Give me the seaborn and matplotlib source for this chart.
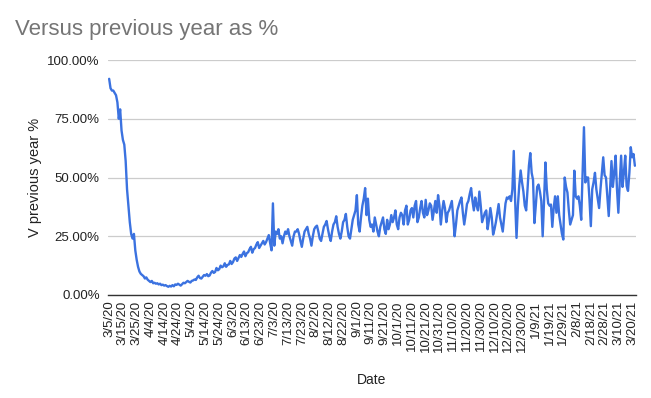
import matplotlib
matplotlib.use("Agg")
import matplotlib.pyplot as plt
import seaborn as sns
import pandas as pd

# daily "versus previous year" percentages, starting 3/5/20
spring_2020 = [
    92, 88, 87, 87, 86, 85, 82,
    75, 79, 70, 66, 64, 57, 45,
    38, 31, 26, 24, 26, 19, 15,
    12, 10, 9, 8.5, 8, 7, 7.5,
    6.5, 6, 5.5, 6, 5, 5.2, 4.8,
    5, 4.5, 4.8, 4.2, 4.4, 4, 4.2,
    3.8, 3.5, 3.9, 3.6, 4.2, 3.7, 4.5,
    4.3, 4.8, 4.4, 4.0, 4.6, 5.2, 5.0,
    5.5, 6.0, 5.6, 5.3, 6.0, 6.2, 6.6,
    6.4, 7.5, 8.2, 7.2, 7.0, 7.8, 8.5,
    8.2, 8.9, 8.0, 8.3, 9.5, 10.2, 9.4,
    9.8, 11.5, 10.5, 11.0, 12.5, 11.8, 12.2,
    13.5, 12.0, 12.8, 13.0, 14.5, 13.2, 14.0,
]
summer_2020 = [
    15.5, 16.0, 14.5, 15.8, 17.0, 16.2, 17.5,
    18.5, 16.5, 17.8, 18.2, 19.5, 20.5, 18.0,
    19.5, 20.0, 21.5, 22.5, 20.0, 21.0, 22.0,
    23.0, 21.5, 22.5, 24.0, 25.5, 22.0, 19.0,
    39, 21, 27, 26, 28, 24, 25,
    22, 25, 27, 26, 28, 25, 23,
    21, 25, 27, 27, 28, 26, 23,
    20.5, 24, 27, 28, 29, 26, 24,
    21, 25, 28, 29, 29.5, 27, 24,
    23, 26, 29, 30, 31.5, 28, 25,
    23, 27, 30, 31, 33.5, 29, 26,
    24, 27, 31, 32, 34.5, 29, 25,
    24, 28, 32, 34, 36, 42.5, 30,
]
autumn_2020 = [
    27, 33, 38, 41, 45.5, 34, 41,
    32, 29, 30, 27, 33, 30, 27,
    25, 29, 31, 33, 28, 26, 32,
    28, 30, 34, 31, 33, 36, 30,
    28, 33, 35, 34, 30, 36, 38,
    30, 32, 36, 37, 33, 38, 40,
    31, 33, 37, 40, 35, 33, 40.5,
    34, 36, 39, 38, 32, 36, 40,
    35, 42.5, 38, 30, 36, 40, 37,
    31, 35, 36, 38, 40, 33, 25,
    30, 36, 38, 40, 41.5, 35, 30,
    34, 38.7, 40, 43, 45.5, 40, 36,
    41.5, 38, 36, 44, 38, 31, 33,
    35, 36, 28, 32, 37, 33, 25.7,
    28, 31, 35, 38.7, 33, 30, 27,
]
winter_2021 = [
    33, 39, 41.5, 41, 42, 40, 45,
    61.3, 40, 24.3, 38, 46.7, 53, 48,
    44, 38, 36, 45, 55, 60.4, 52,
    49, 30.6, 38, 46, 47, 44, 40,
    25, 40, 56.4, 45, 39, 38, 38.5,
    29, 37, 42, 35, 42, 34, 30,
    26, 23.6, 50, 46, 43.6, 36, 30,
    32, 34, 52.9, 42, 41, 42, 38,
    32, 52, 71.4, 47.9, 50, 50, 40.7,
    29.3, 45, 48, 52, 45, 41, 37,
    45, 52, 58.6, 51, 50, 42, 33.6,
    45, 57, 46, 52, 59.3, 45, 35,
    48, 59.3, 46, 52, 59.3, 46.4, 44.3,
    52, 62.9, 58.6, 60, 55,
]

values = spring_2020 + summer_2020 + autumn_2020 + winter_2021
dates = pd.date_range("2020-03-05", periods=len(values), freq="D")
df = pd.DataFrame({"Date": dates, "pct": values})

tick_dates = pd.date_range("2020-03-05", "2021-03-20", freq="10D")
tick_labels = [f"{d.month}/{d.day}/{d.strftime('%y')}" for d in tick_dates]
y_ticks = [0, 25, 50, 75, 100]

sns.set_theme(style="white")
plt.rcParams["font.family"] = ["Liberation Sans", "DejaVu Sans"]

fig, ax = plt.subplots(figsize=(6.51, 3.98), dpi=100)
fig.subplots_adjust(left=0.1659, right=0.977, bottom=0.2588, top=0.8492)

sns.lineplot(data=df, x="Date", y="pct", color="#3b72e0", linewidth=1.7, ax=ax)

ax.set_ylim(0, 100)
ax.set_xlim(dates[0] - pd.Timedelta(hours=20), dates[-1] + pd.Timedelta(hours=20))
ax.set_yticks(y_ticks)
ax.set_yticklabels([f"{v:.2f}%" for v in y_ticks])
ax.set_xticks(tick_dates)
ax.set_xticklabels(tick_labels, rotation=90)
ax.tick_params(axis="both", length=0, labelsize=9.5, colors="#222222")
ax.tick_params(axis="y", pad=6)
ax.tick_params(axis="x", pad=4)

ax.grid(axis="y", color="#cccccc", linewidth=0.9)
ax.grid(axis="x", visible=False)
for side in ["top", "right", "left"]:
    ax.spines[side].set_visible(False)
ax.spines["bottom"].set_color("#333333")
ax.spines["bottom"].set_linewidth(1.0)

ax.set_xlabel("Date", fontsize=10, color="#222222")
ax.set_ylabel("V previous year %", fontsize=10.5, color="#222222")
ax.xaxis.set_label_coords(0.5, -0.362)
ax.xaxis.label.set_va("center")
ax.yaxis.set_label_coords(-0.138, 0.5)
ax.yaxis.label.set_va("center")

fig.text(15 / 651, 1 - 30 / 398, "Versus previous year as %", fontsize=16,
         color="#757575", ha="left", va="center")

fig.savefig("out.png", dpi=100)
